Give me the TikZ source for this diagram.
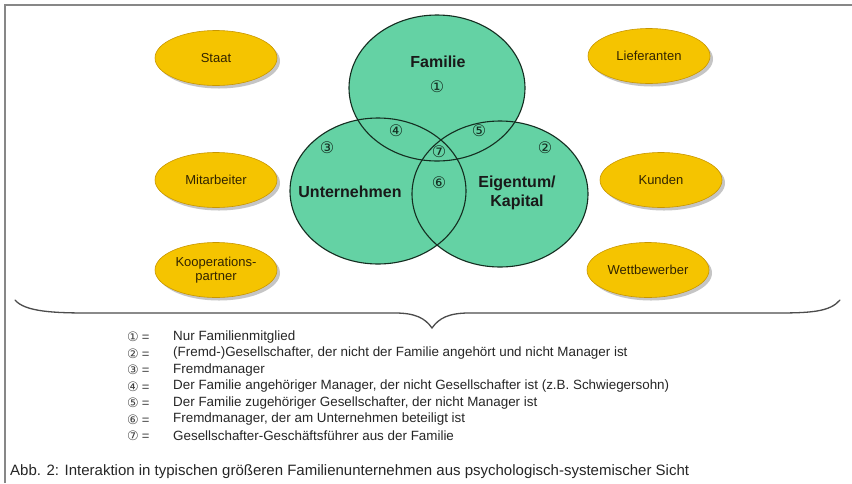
\documentclass[tikz,border=0pt]{standalone}
\usepackage{fontspec}
\usetikzlibrary{shapes.geometric}
\setmainfont{Liberation Sans}
\newfontfamily\symfont{DejaVu Sans}
\definecolor{venngreen}{RGB}{100,210,164}
\definecolor{vennline}{RGB}{20,45,32}
\definecolor{gold}{RGB}{245,196,0}
\definecolor{goldline}{RGB}{200,150,0}
\definecolor{goldtext}{RGB}{50,36,0}
\definecolor{frame}{RGB}{135,135,135}
\tikzset{
  x=1pt, y=-1pt,
  actor/.style={ellipse, minimum width=122pt, minimum height=55pt, inner sep=0pt,
    fill=gold, draw=goldline, line width=0.6pt, text=goldtext, align=center,
    font=\fontsize{13}{14.5}\selectfont},
  actorshadow/.style={ellipse, minimum width=122pt, minimum height=55pt, inner sep=0pt,
    fill=black!45, opacity=0.5},
  vennfill/.style={ellipse, minimum width=176pt, minimum height=146pt, inner sep=0pt, fill=venngreen},
  vennring/.style={ellipse, minimum width=176pt, minimum height=146pt, inner sep=0pt, draw=vennline, line width=1.1pt},
  venntext/.style={font=\bfseries\fontsize{16}{18}\selectfont, text=black!90, align=center},
  num/.style={font=\symfont\fontsize{16}{16}\selectfont, text=vennline, inner sep=0pt},
  legnum/.style={anchor=west, font=\fontsize{13}{14}\selectfont, text=black!75, inner sep=0pt},
  legtext/.style={anchor=west, font=\fontsize{13.4}{15}\selectfont, text=black!85, inner sep=0pt},
}
\begin{document}
\begin{tikzpicture}
\useasboundingbox (0,0) rectangle (852,483);
\fill[white] (0,0) rectangle (852,483);
% frame lines (top and left)
\draw[frame, line width=2pt] (5,483) -- (5,5) -- (852,5);

% shadows of the surrounding actors
\foreach \px/\py [count=\k] in {216/58, 216/180, 216/270, 649/56, 661/180, 648/270}
  \node[actorshadow] (shadow\k) at (\px+3,\py+3) {};
% surrounding actors
\node[actor] (staat) at (216,58) {Staat};
\node[actor] (mitarbeiter) at (216,180) {Mitarbeiter};
\node[actor] (koop) at (216,270) {Kooperations-\\partner};
\node[actor] (lief) at (649,56) {Lieferanten};
\node[actor] (kunden) at (661,180) {Kunden};
\node[actor] (wett) at (648,270) {Wettbewerber};

% three-circle model: fills first, then outlines
\node[vennfill] (famF) at (437,88) {};
\node[vennfill] (untF) at (378,191) {};
\node[vennfill] (eigF) at (500,194) {};
\node[vennring] (familie) at (437,88) {};
\node[vennring] (unternehmen) at (378,191) {};
\node[vennring] (eigentum) at (500,194) {};

\node[venntext] (tFam) at (438,62) {Familie};
\node[venntext] (tUnt) at (350,192) {Unternehmen};
\node[venntext, font=\bfseries\fontsize{16}{19}\selectfont] (tEig) at (517,193) {Eigentum/\\Kapital};

\node[num] (c1) at (437,87) {①};
\node[num] (c2) at (545,148) {②};
\node[num] (c3) at (327,148) {③};
\node[num] (c4) at (396,131) {④};
\node[num] (c5) at (479,131) {⑤};
\node[num] (c6) at (439,183) {⑥};
\node[num] (c7) at (439,152) {⑦};

% curly brace under the diagram
\coordinate (bl) at (15,300);
\coordinate (bm) at (432,328);
\coordinate (br) at (840,300);
\draw[black!70, line width=1.3pt, line cap=round]
  (bl) .. controls (25,312) and (55,313) .. (90,313)
  -- (395,313) .. controls (415,313) and (425,318) .. (bm)
  .. controls (439,318) and (449,313) .. (469,313)
  -- (775,313) .. controls (810,313) and (830,312) .. (br);

% legend
\foreach \i/\sym/\yy in {1/①/337, 2/②/353.5, 3/③/370, 4/④/386.5, 5/⑤/403, 6/⑥/419.5, 7/⑦/436}
  \node[legnum] (n\i) at (127,\yy) {{\symfont\fontsize{13}{13}\selectfont\sym}\hspace{3pt}=};
\node[legtext] (l1) at (173,337) {Nur Familienmitglied};
\node[legtext] (l2) at (173,353.5) {(Fremd-)Gesellschafter, der nicht der Familie angehört und nicht Manager ist};
\node[legtext] (l3) at (173,370) {Fremdmanager};
\node[legtext] (l4) at (173,386.5) {Der Familie angehöriger Manager, der nicht Gesellschafter ist (z.B. Schwiegersohn)};
\node[legtext] (l5) at (173,403) {Der Familie zugehöriger Gesellschafter, der nicht Manager ist};
\node[legtext] (l6) at (173,419.5) {Fremdmanager, der am Unternehmen beteiligt ist};
\node[legtext] (l7) at (173,436) {Gesellschafter-Geschäftsführer aus der Familie};

\node[anchor=west, inner sep=0pt, font=\fontsize{15}{17}\selectfont, text=black!85] (caption) at (10,472)
  {Abb. 2: Interaktion in typischen größeren Familienunternehmen aus psychologisch-systemischer Sicht};
\end{tikzpicture}
\end{document}
